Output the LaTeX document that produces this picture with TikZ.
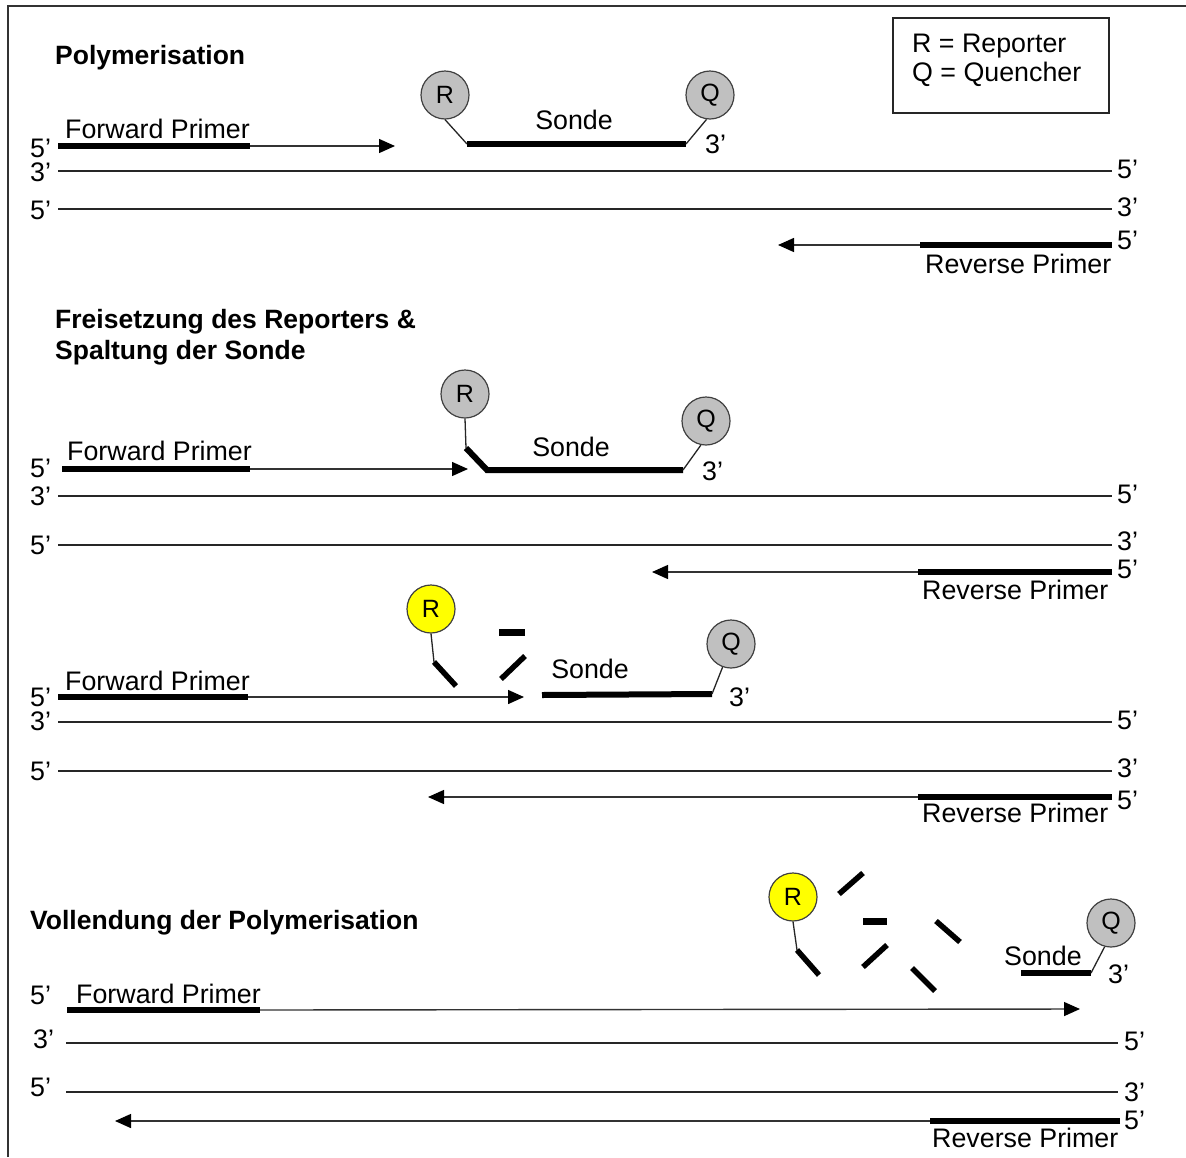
\documentclass[tikz,border=0pt]{standalone}
\usepackage{fontspec}
\setmainfont{Liberation Sans}
\usetikzlibrary{arrows.meta}
\definecolor{ballgray}{HTML}{C0C0C0}
\definecolor{repyellow}{HTML}{FFFF00}
\begin{document}
\begin{tikzpicture}[x=1pt,y=-1pt,
  txt/.style={font=\fontsize{26.8}{30}\selectfont, inner sep=0pt, anchor=base west},
  ctxt/.style={font=\fontsize{26.8}{30}\selectfont, inner sep=0pt, anchor=base},
  ttl/.style={font=\bfseries\fontsize{26.5}{30}\selectfont, inner sep=0pt, anchor=base west},
  strand/.style={line width=1.8pt, draw=black!85},
  primer/.style={line width=6pt, draw=black},
  ext/.style={line width=1.4pt, draw=black!80, -{Triangle[length=16pt,width=14pt,color=black]}},
  probe/.style={line width=6pt, draw=black, line join=miter},
  link/.style={line width=1.3pt, draw=black!85},
  frag/.style={line width=5.5pt, draw=black},
  ball/.style={circle, draw=black!75, line width=1.2pt, fill=ballgray, minimum size=48pt, inner sep=0pt, font=\fontsize{25}{28}\selectfont},
  repball/.style={ball, fill=repyellow},
  frame/.style={line width=2.2pt, draw=black!80}]
\useasboundingbox (0,0) rectangle (1186,1157);
\fill[white] (0,0) rectangle (1186,1157);
% outer frame
\coordinate (fr1) at (8,1157);
\coordinate (fr2) at (8,6);
\coordinate (fr3) at (1186,6);
\draw[frame] (fr1) -- (fr2) -- (fr3);
% legend
\node[draw=black!85, line width=1.8pt, minimum width=216pt, minimum height=95pt, inner sep=0pt, anchor=north west] (legbox) at (892,17) {};
\node[txt] (legR) at (912,52) {R = Reporter};
\node[txt] (legQ) at (912,81) {Q = Quencher};

%%%%%%%%%% Section 1
\node[ttl] (t1) at (55,64) {Polymerisation};
\node[txt] (l1a) at (30,157) {5’};
\node[txt] (l1b) at (30,181) {3’};
\node[txt] (l1c) at (30,219) {5’};
\node[txt] (fp1) at (65,138) {Forward Primer};
\coordinate (f1s) at (58,146);
\coordinate (f1e) at (250,146);
\coordinate (f1t) at (395,146);
\draw[primer] (f1s) -- (f1e);
\draw[ext] (f1e) -- (f1t);
\coordinate (a1s) at (58,171);
\coordinate (a1e) at (1112,171);
\draw[strand] (a1s) -- (a1e);
\coordinate (b1s) at (58,209);
\coordinate (b1e) at (1112,209);
\draw[strand] (b1s) -- (b1e);
\node[txt] (r1a) at (1117,178) {5’};
\node[txt] (r1b) at (1117,216) {3’};
\coordinate (v1s) at (1112,245);
\coordinate (v1e) at (920,245);
\coordinate (v1t) at (778,245);
\draw[primer] (v1s) -- (v1e);
\draw[ext] (v1e) -- (v1t);
\node[txt] (r1c) at (1117,249) {5’};
\node[txt] (rp1) at (925,273) {Reverse Primer};
\node[ball] (R1) at (445,95) {R};
\node[ball] (Q1) at (710,95) {Q};
\coordinate (p1s) at (467,144);
\coordinate (p1e) at (686,144);
\draw[link] (R1.south) -- (p1s);
\draw[probe] (p1s) -- (p1e);
\draw[link] (p1e) -- (Q1.262);
\node[ctxt] (so1) at (574,129) {Sonde};
\node[txt] (pe1) at (705,153) {3’};

%%%%%%%%%% Section 2
\node[ttl] (t2a) at (55,328) {Freisetzung des Reporters \&};
\node[ttl] (t2b) at (55,359) {Spaltung der Sonde};
\node[txt] (l2a) at (30,477) {5’};
\node[txt] (l2b) at (30,505) {3’};
\node[txt] (l2c) at (30,554) {5’};
\node[txt] (fp2) at (67,460) {Forward Primer};
\coordinate (f2s) at (62,469);
\coordinate (f2e) at (250,469);
\coordinate (f2t) at (468,469);
\draw[primer] (f2s) -- (f2e);
\draw[ext] (f2e) -- (f2t);
\coordinate (a2s) at (58,496);
\coordinate (a2e) at (1112,496);
\draw[strand] (a2s) -- (a2e);
\coordinate (b2s) at (58,545);
\coordinate (b2e) at (1112,545);
\draw[strand] (b2s) -- (b2e);
\node[txt] (r2a) at (1117,503) {5’};
\node[txt] (r2b) at (1117,550) {3’};
\coordinate (v2s) at (1112,572);
\coordinate (v2e) at (918,572);
\coordinate (v2t) at (652,572);
\draw[primer] (v2s) -- (v2e);
\draw[ext] (v2e) -- (v2t);
\node[txt] (r2c) at (1117,578) {5’};
\node[txt] (rp2) at (922,599) {Reverse Primer};
\node[ball] (R2) at (465,394) {R};
\node[ball] (Q2) at (706,421) {Q};
\coordinate (k2) at (466,448);
\coordinate (p2s) at (487,470);
\coordinate (p2e) at (683,470);
\draw[link] (R2.south) -- (k2);
\draw[probe] (k2) -- (p2s) -- (p2e);
\draw[link] (p2e) -- (Q2.258);
\node[ctxt] (so2) at (571,456) {Sonde};
\node[txt] (pe2) at (702,480) {3’};

%%%%%%%%%% Section 3
\node[txt] (l3a) at (30,706) {5’};
\node[txt] (l3b) at (30,730) {3’};
\node[txt] (l3c) at (30,780) {5’};
\node[txt] (fp3) at (65,690) {Forward Primer};
\coordinate (f3s) at (58,697);
\coordinate (f3e) at (248,697);
\coordinate (f3t) at (524,697);
\draw[primer] (f3s) -- (f3e);
\draw[ext] (f3e) -- (f3t);
\coordinate (a3s) at (58,722);
\coordinate (a3e) at (1112,722);
\draw[strand] (a3s) -- (a3e);
\coordinate (b3s) at (58,771);
\coordinate (b3e) at (1112,771);
\draw[strand] (b3s) -- (b3e);
\node[txt] (r3a) at (1117,729) {5’};
\node[txt] (r3b) at (1117,777) {3’};
\coordinate (v3s) at (1112,797);
\coordinate (v3e) at (918,797);
\coordinate (v3t) at (428,797);
\draw[primer] (v3s) -- (v3e);
\draw[ext] (v3e) -- (v3t);
\node[txt] (r3c) at (1117,809) {5’};
\node[txt] (rp3) at (922,822) {Reverse Primer};
\node[repball] (R3) at (431,609) {R};
\coordinate (k3) at (434,662);
\coordinate (k3e) at (456,686);
\draw[link] (R3.south) -- (k3);
\draw[frag] (k3) -- (k3e);
\coordinate (g3a) at (499,632);
\coordinate (g3b) at (525,632);
\draw[line width=7pt] (g3a) -- (g3b);
\coordinate (g3c) at (501,679);
\coordinate (g3d) at (525,656);
\draw[frag] (g3c) -- (g3d);
\node[ctxt] (so3) at (590,678) {Sonde};
\node[ball] (Q3) at (731,644) {Q};
\coordinate (p3s) at (542,695);
\coordinate (p3e) at (712,694);
\draw[probe] (p3s) -- (p3e);
\draw[link] (p3e) -- (Q3.250);
\node[txt] (pe3) at (729,706) {3’};

%%%%%%%%%% Section 4
\node[ttl] (t4) at (30,929) {Vollendung der Polymerisation};
\node[txt] (l4a) at (30,1004) {5’};
\node[txt] (l4b) at (33,1048) {3’};
\node[txt] (l4c) at (30,1096) {5’};
\node[txt] (fp4) at (76,1003) {Forward Primer};
\coordinate (f4s) at (67,1010);
\coordinate (f4e) at (260,1010);
\coordinate (f4t) at (1080,1009);
\draw[primer] (f4s) -- (f4e);
\draw[ext] (f4e) -- (f4t);
\coordinate (a4s) at (66,1043);
\coordinate (a4e) at (1118,1043);
\draw[strand] (a4s) -- (a4e);
\coordinate (b4s) at (66,1092);
\coordinate (b4e) at (1118,1092);
\draw[strand] (b4s) -- (b4e);
\node[txt] (r4a) at (1124,1050) {5’};
\node[txt] (r4b) at (1124,1101) {3’};
\coordinate (v4s) at (1120,1121);
\coordinate (v4e) at (930,1121);
\coordinate (v4t) at (115,1121);
\draw[primer] (v4s) -- (v4e);
\draw[ext] (v4e) -- (v4t);
\node[txt] (r4c) at (1124,1129) {5’};
\node[txt] (rp4) at (932,1147) {Reverse Primer};
\node[repball] (R4) at (793,897) {R};
\coordinate (k4) at (797,950);
\coordinate (k4e) at (819,975);
\draw[link] (R4.south) -- (k4);
\draw[frag] (k4) -- (k4e);
\coordinate (g4a) at (839,894);
\coordinate (g4b) at (863,873);
\draw[frag] (g4a) -- (g4b);
\coordinate (g4c) at (863,921);
\coordinate (g4d) at (887,921);
\draw[line width=7pt] (g4c) -- (g4d);
\coordinate (g4e) at (936,921);
\coordinate (g4f) at (960,942);
\draw[frag] (g4e) -- (g4f);
\coordinate (g4g) at (863,967);
\coordinate (g4h) at (887,945);
\draw[frag] (g4g) -- (g4h);
\coordinate (g4i) at (912,968);
\coordinate (g4j) at (935,991);
\draw[frag] (g4i) -- (g4j);
\node[txt] (so4) at (1004,965) {Sonde};
\node[ball] (Q4) at (1111,923) {Q};
\coordinate (p4s) at (1021,973);
\coordinate (p4e) at (1091,973);
\draw[probe] (p4s) -- (p4e);
\draw[link] (p4e) -- (Q4.255);
\node[txt] (pe4) at (1108,983) {3’};
\end{tikzpicture}
\end{document}
